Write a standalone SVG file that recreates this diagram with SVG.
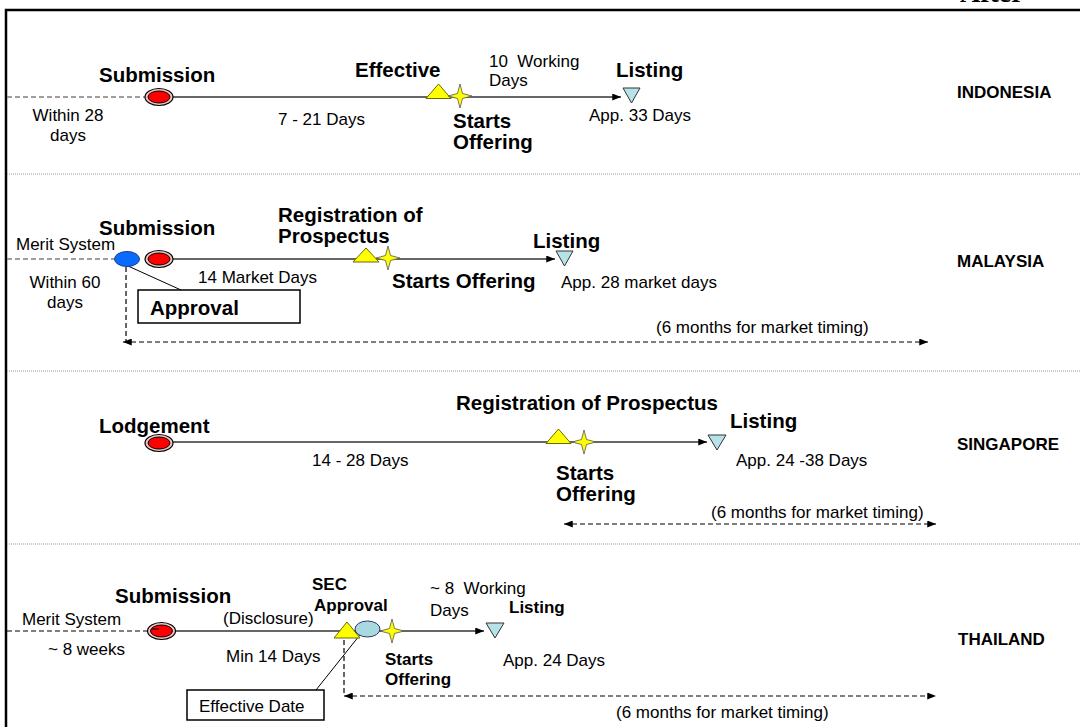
<svg xmlns="http://www.w3.org/2000/svg" width="1080" height="727" viewBox="0 0 1080 727">
<style>
text{font-family:"Liberation Sans",Arial,sans-serif;fill:#000}
.lb{font-weight:bold;font-size:20.5px}
.sb{font-weight:bold;font-size:17px}
.t{font-size:17px}
.cty{font-weight:bold;font-size:17px}
.main{stroke:#333;stroke-width:1.5;fill:none}
.dg{stroke:#808080;stroke-width:1.5;stroke-dasharray:5 3;fill:none}
.dk{stroke:#000;stroke-width:1.2;stroke-dasharray:5 3;fill:none}
.sep{stroke:#9a9a9a;stroke-width:1;stroke-dasharray:1 1;fill:none}
.lead{stroke:#000;stroke-width:1;fill:none}
.tri{fill:#FFFF00;stroke:#6b6b00;stroke-width:1}
.star{fill:#FFFF00;stroke:#555;stroke-width:0.8}
.inv{fill:#B7E3E8;stroke:#333;stroke-width:1}
.box{fill:#fff;stroke:#000;stroke-width:1.5}
</style>
<defs>
<marker id="ah" viewBox="0 0 10 8" refX="10" refY="4" markerWidth="9" markerHeight="7" markerUnits="userSpaceOnUse" orient="auto-start-reverse">
<path d="M0,0 L10,4 L0,8 Z" fill="#000"/>
</marker>
<g id="redNode">
<ellipse cx="0" cy="0" rx="14" ry="8.5" fill="#F2C4C4" stroke="#000" stroke-width="1.2"/>
<ellipse cx="0" cy="0" rx="11" ry="6" fill="#FF0000" stroke="#000" stroke-width="1"/>
</g>
<path id="starShape" d="M0,-12 L2.5,-2.5 L12,0 L2.5,2.5 L0,12 L-2.5,2.5 L-12,0 L-2.5,-2.5 Z"/>
</defs>
<rect width="1080" height="727" fill="#fff"/>
<text x="960" y="2" style="font-family:'Liberation Serif','Times New Roman',serif;font-weight:bold;font-size:28px">After</text>
<rect x="6" y="10" width="1100" height="800" fill="none" stroke="#000" stroke-width="2.5"/>
<g id="separators">
<line class="sep" x1="7" y1="174" x2="1080" y2="174"/>
<line class="sep" x1="7" y1="371" x2="1080" y2="371"/>
<line class="sep" x1="7" y1="544" x2="1080" y2="544"/>
</g>
<g id="connectors">
<line class="dg" x1="7" y1="97" x2="145" y2="97"/>
<line class="main" x1="173" y1="97" x2="621" y2="97" marker-end="url(#ah)"/>
<line class="dg" x1="7" y1="259" x2="114" y2="259"/>
<line class="main" x1="173" y1="259" x2="555" y2="259" marker-end="url(#ah)"/>
<line class="lead" x1="128" y1="266" x2="181" y2="290"/>
<line class="dk" x1="126" y1="267" x2="126" y2="342"/>
<line class="dk" x1="123" y1="342" x2="928" y2="342" marker-start="url(#ah)" marker-end="url(#ah)"/>
<line class="main" x1="173" y1="442" x2="707" y2="442" marker-end="url(#ah)"/>
<line class="dk" x1="564" y1="524" x2="936" y2="524" marker-start="url(#ah)" marker-end="url(#ah)"/>
<line class="dk" x1="7" y1="631" x2="148" y2="631"/>
<line class="main" x1="176" y1="631" x2="484" y2="631" marker-end="url(#ah)"/>
<line class="lead" x1="363" y1="631" x2="316" y2="690"/>
<line class="dk" x1="344" y1="632" x2="344" y2="696"/>
<line class="dk" x1="344" y1="696" x2="936" y2="696" marker-start="url(#ah)" marker-end="url(#ah)"/>
</g>
<!-- INDONESIA -->
<g id="id-submission">
<use href="#redNode" x="159" y="97"/>
<text class="lb" x="99" y="82">Submission</text>
</g>
<g id="id-within">
<text class="t" x="68" y="121" text-anchor="middle">Within 28</text>
<text class="t" x="68" y="141" text-anchor="middle">days</text>
</g>
<text id="id-dur1" class="t" x="278" y="125">7 - 21 Days</text>
<g id="id-effective">
<polygon class="tri" points="426,98.5 438.5,84 451,98.5"/>
<text class="lb" x="355" y="77">Effective</text>
</g>
<g id="id-offering">
<use href="#starShape" class="star" x="460" y="96"/>
<text class="lb" x="453" y="128">Starts</text>
<text class="lb" x="453" y="149">Offering</text>
</g>
<g id="id-working">
<text class="t" x="489" y="67" xml:space="preserve">10  Working</text>
<text class="t" x="489" y="86">Days</text>
</g>
<g id="id-listing">
<polygon class="inv" points="623,88 640,88 631.5,103"/>
<text class="lb" x="616" y="77">Listing</text>
<text class="t" x="589" y="121">App. 33 Days</text>
</g>
<text id="id-country" class="cty" x="957" y="98">INDONESIA</text>
<!-- MALAYSIA -->
<g id="my-merit">
<ellipse cx="127" cy="259" rx="12.5" ry="7.5" fill="#0A6CFF" stroke="#1a3a8a" stroke-width="1"/>
<text class="t" x="16" y="250">Merit System</text>
<text class="t" x="65" y="288" text-anchor="middle">Within 60</text>
<text class="t" x="65" y="308" text-anchor="middle">days</text>
</g>
<g id="my-submission">
<use href="#redNode" x="159" y="259"/>
<text class="lb" x="99" y="235">Submission</text>
</g>
<g id="my-approval">
<rect class="box" x="138" y="290" width="162" height="33"/>
<text class="lb" x="150" y="315">Approval</text>
</g>
<text id="my-dur" class="t" x="198" y="283">14 Market Days</text>
<g id="my-registration">
<polygon class="tri" points="353,262 366,248 379,262"/>
<text class="lb" x="278" y="222">Registration of</text>
<text class="lb" x="278" y="243">Prospectus</text>
</g>
<g id="my-offering">
<use href="#starShape" class="star" x="388" y="258"/>
<text class="lb" x="392" y="288">Starts Offering</text>
</g>
<g id="my-listing">
<polygon class="inv" points="556,251 573,251 564.5,266"/>
<text class="lb" x="533" y="248">Listing</text>
<text class="t" x="561" y="288">App. 28 market days</text>
</g>
<text id="my-timing" class="t" x="656" y="333">(6 months for market timing)</text>
<text id="my-country" class="cty" x="957" y="267">MALAYSIA</text>
<!-- SINGAPORE -->
<g id="sg-lodgement">
<use href="#redNode" x="159" y="443"/>
<text class="lb" x="99" y="433">Lodgement</text>
</g>
<text id="sg-dur" class="t" x="312" y="466">14 - 28 Days</text>
<g id="sg-registration">
<polygon class="tri" points="546,443.5 558.5,429 571,443.5"/>
<text class="lb" x="456" y="410">Registration of Prospectus</text>
</g>
<g id="sg-offering">
<use href="#starShape" class="star" x="584" y="442"/>
<text class="lb" x="556" y="480">Starts</text>
<text class="lb" x="556" y="501">Offering</text>
</g>
<g id="sg-listing">
<polygon class="inv" points="708,435 726,435 717,450"/>
<text class="lb" x="730" y="428">Listing</text>
<text class="t" x="736" y="466">App. 24 -38 Days</text>
</g>
<text id="sg-timing" class="t" x="711" y="518">(6 months for market timing)</text>
<text id="sg-country" class="cty" x="957" y="450">SINGAPORE</text>
<!-- THAILAND -->
<g id="th-merit">
<text class="t" x="22" y="625">Merit System</text>
<text class="t" x="48" y="655">~ 8 weeks</text>
</g>
<g id="th-submission">
<use href="#redNode" x="161.5" y="631"/>
<line x1="152" y1="629" x2="159" y2="629" stroke="#000" stroke-width="1"/>
<text class="lb" x="115" y="603">Submission</text>
</g>
<g id="th-disclosure">
<text class="t" x="223" y="624">(Disclosure)</text>
<text class="t" x="226" y="662">Min 14 Days</text>
</g>
<g id="th-sec">
<polygon class="tri" points="334,638 347,622 360,638"/>
<ellipse cx="367.5" cy="629" rx="12.5" ry="8" fill="#A9D9E0" stroke="#336" stroke-width="1"/>
<text class="sb" x="312" y="590">SEC</text>
<text class="sb" x="314" y="611">Approval</text>
</g>
<g id="th-effective">
<rect class="box" x="187" y="690" width="137" height="30" stroke-width="1.2"/>
<text class="t" x="199" y="712">Effective Date</text>
</g>
<g id="th-offering">
<use href="#starShape" class="star" x="392" y="631"/>
<text class="sb" x="385" y="665">Starts</text>
<text class="sb" x="385" y="685">Offering</text>
</g>
<g id="th-working">
<text class="t" x="430" y="594" xml:space="preserve">~ 8  Working</text>
<text class="t" x="430" y="616">Days</text>
</g>
<g id="th-listing">
<polygon class="inv" points="486,623 504,623 495,638"/>
<text class="sb" x="509" y="613">Listing</text>
<text class="t" x="503" y="666">App. 24 Days</text>
</g>
<text id="th-timing" class="t" x="616" y="718">(6 months for market timing)</text>
<text id="th-country" class="cty" x="958" y="645">THAILAND</text>
</svg>
